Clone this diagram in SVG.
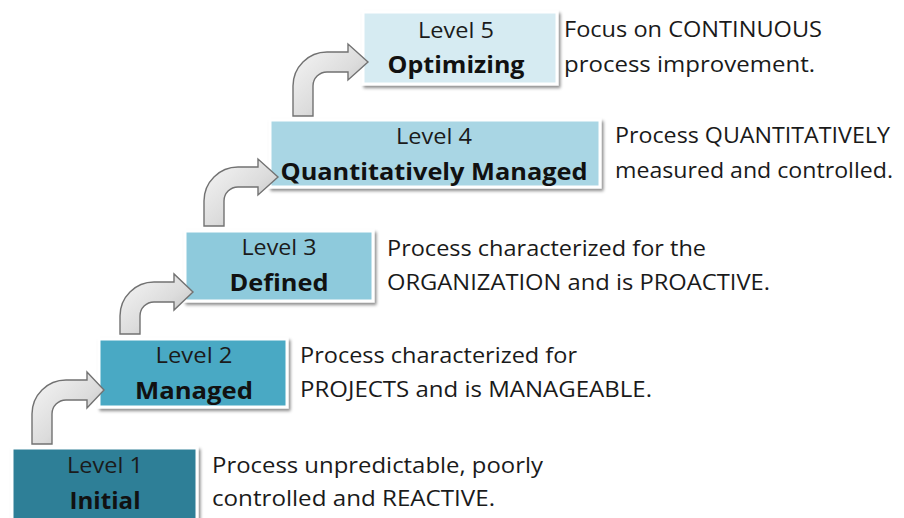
<svg xmlns="http://www.w3.org/2000/svg" width="904" height="518" viewBox="0 0 904 518">
  <defs>
    <filter id="shadow" x="-10%" y="-10%" width="125%" height="140%">
      <feDropShadow dx="2" dy="2.5" stdDeviation="1.8" flood-color="#000" flood-opacity="0.45"/>
    </filter>
    <linearGradient id="arrowFill" x1="0" y1="0" x2="1" y2="1">
      <stop offset="0" stop-color="#f7f7f7"/>
      <stop offset="0.55" stop-color="#dcdcdc"/>
      <stop offset="1" stop-color="#b4b4b4"/>
    </linearGradient>
    <style>
      .box { stroke: #ffffff; stroke-width: 3; filter: url(#shadow); }
      .lvl { font-family: "Open Sans", "Noto Sans", sans-serif; font-size: 21px; fill: #1b1b1b; text-anchor: middle; }
      .name { font-family: "Open Sans", "Noto Sans", sans-serif; font-size: 24px; font-weight: bold; fill: #111111; text-anchor: middle; }
      .desc { font-family: "Open Sans", "Noto Sans", sans-serif; font-size: 21px; fill: #1a1a1a; }
      .arrow { fill: url(#arrowFill); stroke: #727272; stroke-width: 1.4; stroke-linejoin: miter; }
    </style>
  </defs>

  <rect width="904" height="518" fill="#ffffff"/>

  <!-- maturity levels, bottom to top -->
  <g id="level1">
    <rect class="box" x="12" y="448" width="185" height="76" fill="#2f7f97"/>
    <text class="lvl" x="105" y="473" textLength="76" lengthAdjust="spacingAndGlyphs">Level 1</text>
    <text class="name" x="105" y="509" textLength="71" lengthAdjust="spacingAndGlyphs">Initial</text>
    <text class="desc" x="212" y="473" textLength="331" lengthAdjust="spacingAndGlyphs">Process unpredictable, poorly</text>
    <text class="desc" x="212" y="506" textLength="283" lengthAdjust="spacingAndGlyphs">controlled and REACTIVE.</text>
  </g>

  <g id="level2">
    <rect class="box" x="99" y="339" width="188" height="68" fill="#48a9c4"/>
    <text class="lvl" x="194" y="363" textLength="77" lengthAdjust="spacingAndGlyphs">Level 2</text>
    <text class="name" x="194" y="399" textLength="118" lengthAdjust="spacingAndGlyphs">Managed</text>
    <text class="desc" x="300" y="363" textLength="277" lengthAdjust="spacingAndGlyphs">Process characterized for</text>
    <text class="desc" x="300" y="397" textLength="352" lengthAdjust="spacingAndGlyphs">PROJECTS and is MANAGEABLE.</text>
  </g>

  <g id="level3">
    <rect class="box" x="185" y="231" width="188" height="70" fill="#8ecadc"/>
    <text class="lvl" x="279" y="255" textLength="75" lengthAdjust="spacingAndGlyphs">Level 3</text>
    <text class="name" x="279" y="291" textLength="99" lengthAdjust="spacingAndGlyphs">Defined</text>
    <text class="desc" x="387" y="256" textLength="319" lengthAdjust="spacingAndGlyphs">Process characterized for the</text>
    <text class="desc" x="387" y="290" textLength="383" lengthAdjust="spacingAndGlyphs">ORGANIZATION and is PROACTIVE.</text>
  </g>

  <g id="level4">
    <rect class="box" x="270" y="120" width="330" height="67" fill="#a9d6e4"/>
    <text class="lvl" x="434" y="144" textLength="76" lengthAdjust="spacingAndGlyphs">Level 4</text>
    <text class="name" x="434" y="180" textLength="307" lengthAdjust="spacingAndGlyphs">Quantitatively Managed</text>
    <text class="desc" x="615" y="143" textLength="275" lengthAdjust="spacingAndGlyphs">Process QUANTITATIVELY</text>
    <text class="desc" x="615" y="178" textLength="278" lengthAdjust="spacingAndGlyphs">measured and controlled.</text>
  </g>

  <g id="level5">
    <rect class="box" x="363" y="12" width="194" height="72" fill="#d6ebf2"/>
    <text class="lvl" x="456" y="38" textLength="76" lengthAdjust="spacingAndGlyphs">Level 5</text>
    <text class="name" x="456" y="73" textLength="137" lengthAdjust="spacingAndGlyphs">Optimizing</text>
    <text class="desc" x="564" y="37" textLength="258" lengthAdjust="spacingAndGlyphs">Focus on CONTINUOUS</text>
    <text class="desc" x="564" y="72" textLength="251" lengthAdjust="spacingAndGlyphs">process improvement.</text>
  </g>

  <!-- bent step-up arrows between levels -->
  <g id="connectors">
    <path class="arrow" d="M32,444 L32,414 A34,34 0 0 1 66,380 L87,380 L87,372 L104,390 L87,408 L87,400 L66,400 A14,14 0 0 0 52,414 L52,444 Z"/>
    <path class="arrow" d="M120,334 L120,316 A34,34 0 0 1 154,282 L174,282 L174,274 L193,292 L174,310 L174,302 L154,302 A14,14 0 0 0 140,316 L140,334 Z"/>
    <path class="arrow" d="M204,226 L204,201 A34,34 0 0 1 238,167 L258,167 L258,159 L278,177 L258,195 L258,187 L238,187 A14,14 0 0 0 224,201 L224,226 Z"/>
    <path class="arrow" d="M293,116 L293,86 A34,34 0 0 1 327,52 L348,52 L348,44 L368,62 L348,80 L348,72 L327,72 A14,14 0 0 0 313,86 L313,116 Z"/>
  </g>
</svg>
